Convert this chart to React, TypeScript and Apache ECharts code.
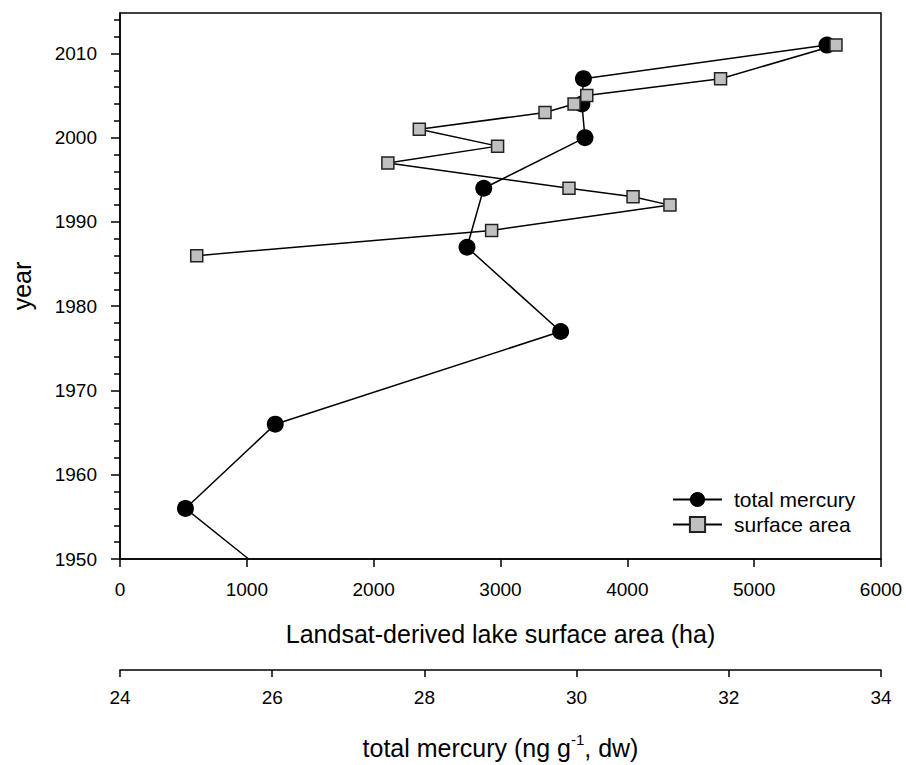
import React, { useEffect, useRef } from "react";
import * as echarts from "echarts";

// total mercury series (ng g-1, dw) by year
const mercuryYears = [2011, 2007, 2004, 2000, 1994, 1987, 1977, 1966, 1956, 1950];
const mercuryValues = [33.29, 30.09, 30.07, 30.11, 28.78, 28.56, 29.79, 26.04, 24.86, 25.69];

// Landsat-derived lake surface area (ha) by year
const areaYears = [2011, 2007, 2005, 2004, 2003, 2001, 1999, 1997, 1994, 1993, 1992, 1989, 1986];
const areaValues = [5645, 4735, 3680, 3580, 3351, 2360, 2977, 2112, 3540, 4045, 4336, 2930, 605];

const yearMajor = [1950, 1960, 1970, 1980, 1990, 2000, 2010];
const yearMinor = [1952, 1954, 1956, 1958, 1962, 1964, 1966, 1968, 1972, 1974, 1976, 1978, 1982, 1984, 1986, 1988, 1992, 1994, 1996, 1998, 2002, 2004, 2006, 2008, 2012, 2014];

const FONT = "'Liberation Sans', Arial, sans-serif";
const plain = (v: number) => String(v);

export default function App() {
  const ref = useRef<HTMLDivElement>(null);
  useEffect(() => {
    if (!ref.current) return;
    const chart = echarts.init(ref.current, null, { renderer: "svg" });
    const axisLine = { lineStyle: { color: "#000", width: 1.5 } };
    const mercuryData = mercuryYears.map((y, i) =>
      i === mercuryYears.length - 1
        ? { value: [mercuryValues[i], y], symbol: "none" }
        : { value: [mercuryValues[i], y] }
    );
    const areaData = areaYears.map((y, i) => [areaValues[i], y]);
    chart.setOption({
      animation: false,
      backgroundColor: "#fff",
      textStyle: { fontFamily: FONT, color: "#000" },
      grid: {
        left: 120,
        right: 25,
        top: 13,
        bottom: 204,
        show: true,
        borderColor: "#000",
        borderWidth: 1.5,
        backgroundColor: "transparent",
      },
      legend: {
        orient: "vertical",
        left: 667,
        top: 484,
        itemWidth: 49,
        itemHeight: 19,
        itemGap: 4,
        data: ["total mercury", "surface area"],
        textStyle: { fontFamily: FONT, fontSize: 21, color: "#000", padding: [0, 0, 0, 7] },
      },
      xAxis: [
        {
          type: "value",
          position: "bottom",
          min: 0,
          max: 6000,
          interval: 1000,
          axisLine,
          axisTick: { show: true, inside: false, length: 8, lineStyle: { color: "#000", width: 1.5 } },
          axisLabel: { margin: 21, fontSize: 19, color: "#000", fontFamily: FONT, formatter: plain },
          splitLine: { show: false },
          name: "Landsat-derived lake surface area (ha)",
          nameLocation: "middle",
          nameGap: 62,
          nameTextStyle: { fontSize: 25, color: "#000", fontFamily: FONT },
        },
        {
          type: "value",
          position: "bottom",
          offset: 111,
          min: 24,
          max: 34,
          interval: 2,
          axisLine,
          axisTick: { show: true, inside: false, length: 7, lineStyle: { color: "#000", width: 1.5 } },
          axisLabel: { margin: 18, fontSize: 19, color: "#000", fontFamily: FONT, formatter: plain },
          splitLine: { show: false },
          name: "{a|total mercury (ng g}{s|-1}{a|, dw)}",
          nameLocation: "middle",
          nameGap: 62,
          nameTextStyle: {
            fontFamily: FONT,
            color: "#000",
            rich: {
              a: { fontSize: 25, fontFamily: FONT, color: "#000", verticalAlign: "bottom", lineHeight: 28 },
              s: { fontSize: 15, fontFamily: FONT, color: "#000", verticalAlign: "top", lineHeight: 28, padding: [0, 0, 12, 0] },
            },
          },
        },
      ],
      yAxis: [
        {
          type: "value",
          position: "left",
          min: 1950,
          max: 2014.8,
          axisLine,
          axisTick: { show: true, inside: false, length: 9, customValues: yearMajor, lineStyle: { color: "#000", width: 1.5 } },
          axisLabel: { margin: 23, fontSize: 19, color: "#000", fontFamily: FONT, customValues: yearMajor, formatter: plain },
          splitLine: { show: false },
          name: "year",
          nameLocation: "middle",
          nameGap: 86,
          nameTextStyle: { fontSize: 25, color: "#000", fontFamily: FONT },
        },
        {
          type: "value",
          position: "left",
          min: 1950,
          max: 2014.8,
          axisLine: { show: false },
          axisTick: { show: true, inside: false, length: 6, customValues: yearMinor, lineStyle: { color: "#000", width: 1.5 } },
          axisLabel: { show: false },
          splitLine: { show: false },
        },
      ],
      series: [
        {
          name: "total mercury",
          type: "line",
          xAxisIndex: 1,
          yAxisIndex: 0,
          data: mercuryData,
          symbol: "circle",
          symbolSize: 17,
          lineStyle: { color: "#000", width: 1.5 },
          itemStyle: { color: "#000", borderColor: "#000", borderWidth: 0 },
          z: 2,
        },
        {
          name: "surface area",
          type: "line",
          xAxisIndex: 0,
          yAxisIndex: 0,
          data: areaData,
          symbol: "rect",
          symbolSize: 12,
          lineStyle: { color: "#000", width: 1.5 },
          itemStyle: { color: "#c0c0c0", borderColor: "#222", borderWidth: 1.5 },
          z: 3,
        },
      ],
    });
    return () => chart.dispose();
  }, []);
  return (
    <div
      ref={ref}
      style={{ position: "fixed", left: 0, top: 0, width: 906, height: 765, background: "#fff" }}
    />
  );
}
